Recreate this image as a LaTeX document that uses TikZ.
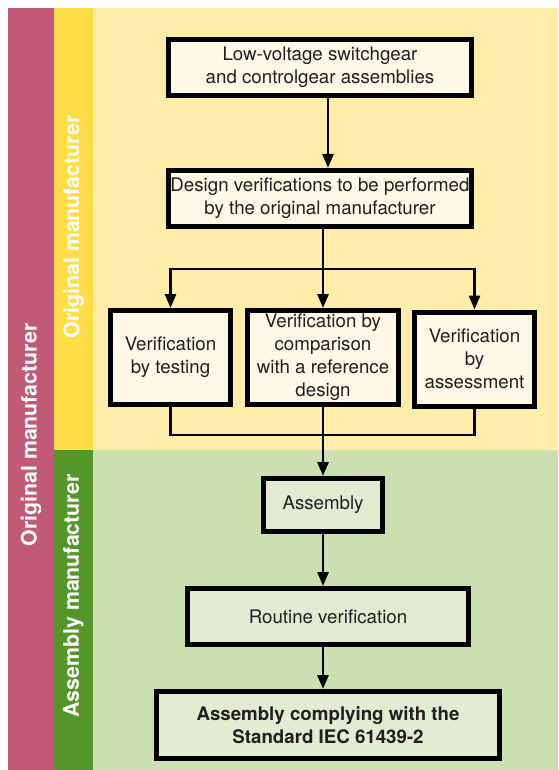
\documentclass[tikz,border=0pt]{standalone}
\usepackage{fontspec}
\setmainfont{TeX Gyre Heros}
\usepackage{xcolor}
\usepackage{tikz}
\usetikzlibrary{arrows.meta}
\usetikzlibrary{shapes}
\definecolor{bandred}{HTML}{C15A76}
\definecolor{bandyellow}{HTML}{FFDD47}
\definecolor{lightyellow}{HTML}{FFEDA9}
\definecolor{boxyellow}{HTML}{FFF8E6}
\definecolor{bandgreen}{HTML}{54962A}
\definecolor{lightgreen}{HTML}{CBDFB0}
\definecolor{boxgreen}{HTML}{E1ECD2}
\definecolor{textgray}{HTML}{231F20}
\newcommand{\boxfont}{\fontsize{18.7}{23}\selectfont}
\newcommand{\bandfont}{\fontsize{21.3}{25}\selectfont\bfseries}
\tikzset{
    boxy/.style = {rectangle, draw=black, line width=5pt, align=center, fill=boxyellow, text=textgray, font=\boxfont, inner sep=0pt},
    boxg/.style = {rectangle, draw=black, line width=5pt, align=center, fill=boxgreen, text=textgray, font=\boxfont, inner sep=0pt},
    bandlabel/.style = {rotate=90, text=white, font=\bandfont, inner sep=0pt},
}

\begin{document}
\begin{tikzpicture}[
	x=1pt,
	y=-1pt
]
\tikzset{
    arrow/.style = {-{Triangle[length=14pt,width=11pt]}, line width=2.8pt},
    line/.style = {-, line width=2.8pt},
}
\useasboundingbox (0,0) rectangle (558,770);
% bands
\fill[bandred] (8,8) rectangle (54,770);
\fill[bandyellow] (54,8) rectangle (93,450);
\fill[lightyellow] (93,8) rectangle (558,450);
\fill[bandgreen] (54,450) rectangle (93,770);
\fill[lightgreen] (93,450) rectangle (558,770);
%
\node[bandlabel] at (31,435) (orig) {Original manufacturer};
\node[bandlabel] at (73.5,227) (origm) {Original manufacturer};
\node[bandlabel] at (73.5,596) (asmm) {Assembly manufacturer};
%
\node[boxy, minimum width=303, minimum height=56] at (320,67.5) (low) {Low-voltage switchgear\\and controlgear assemblies};
\node[boxy, minimum width=303, minimum height=56] at (320,198.5) (des) {Design verifications to be performed\\by the original manufacturer};
\node[boxy, minimum width=120, minimum height=94] at (170.5,357.5) (test) {Verification\\by testing};
\node[boxy, minimum width=151, minimum height=94] at (323,357.5) (comp) {Verification by\\comparison\\with a reference\\design};
\node[boxy, minimum width=120, minimum height=94] at (474.5,359) (asmt) {Verification\\by\\assessment};
\node[boxg, minimum width=119, minimum height=53] at (323,505) (asm) {Assembly};
\node[boxg, minimum width=281, minimum height=56] at (328,616.5) (rout) {Routine verification};
\node[boxg, minimum width=343, minimum height=67, font=\boxfont\bfseries] at (328,725) (fin) {Assembly complying with the\\Standard IEC 61439-2};
%
\coordinate (split) at (323,269);
\coordinate (merge) at (323,435);
%
\draw[arrow] ([xshift=8pt]low.south) -- ([xshift=8pt]des.north);
\draw[line] ([xshift=3pt]des.south) -- (split);
\draw[arrow] (split) -| (test);
\draw[arrow] (split) -- (comp);
\draw[arrow] (split) -| (asmt);
%
\draw[line] (test) |- (merge);
\draw[line] (comp) -- (merge);
\draw[line] (asmt) |- (merge);
\draw[arrow] (merge) -- (asm);
%
\draw[arrow] (asm.south) -- (asm.south |- rout.north);
\draw[arrow] (asm.south |- rout.south) -- (asm.south |- fin.north);
\end{tikzpicture}
\end{document}
